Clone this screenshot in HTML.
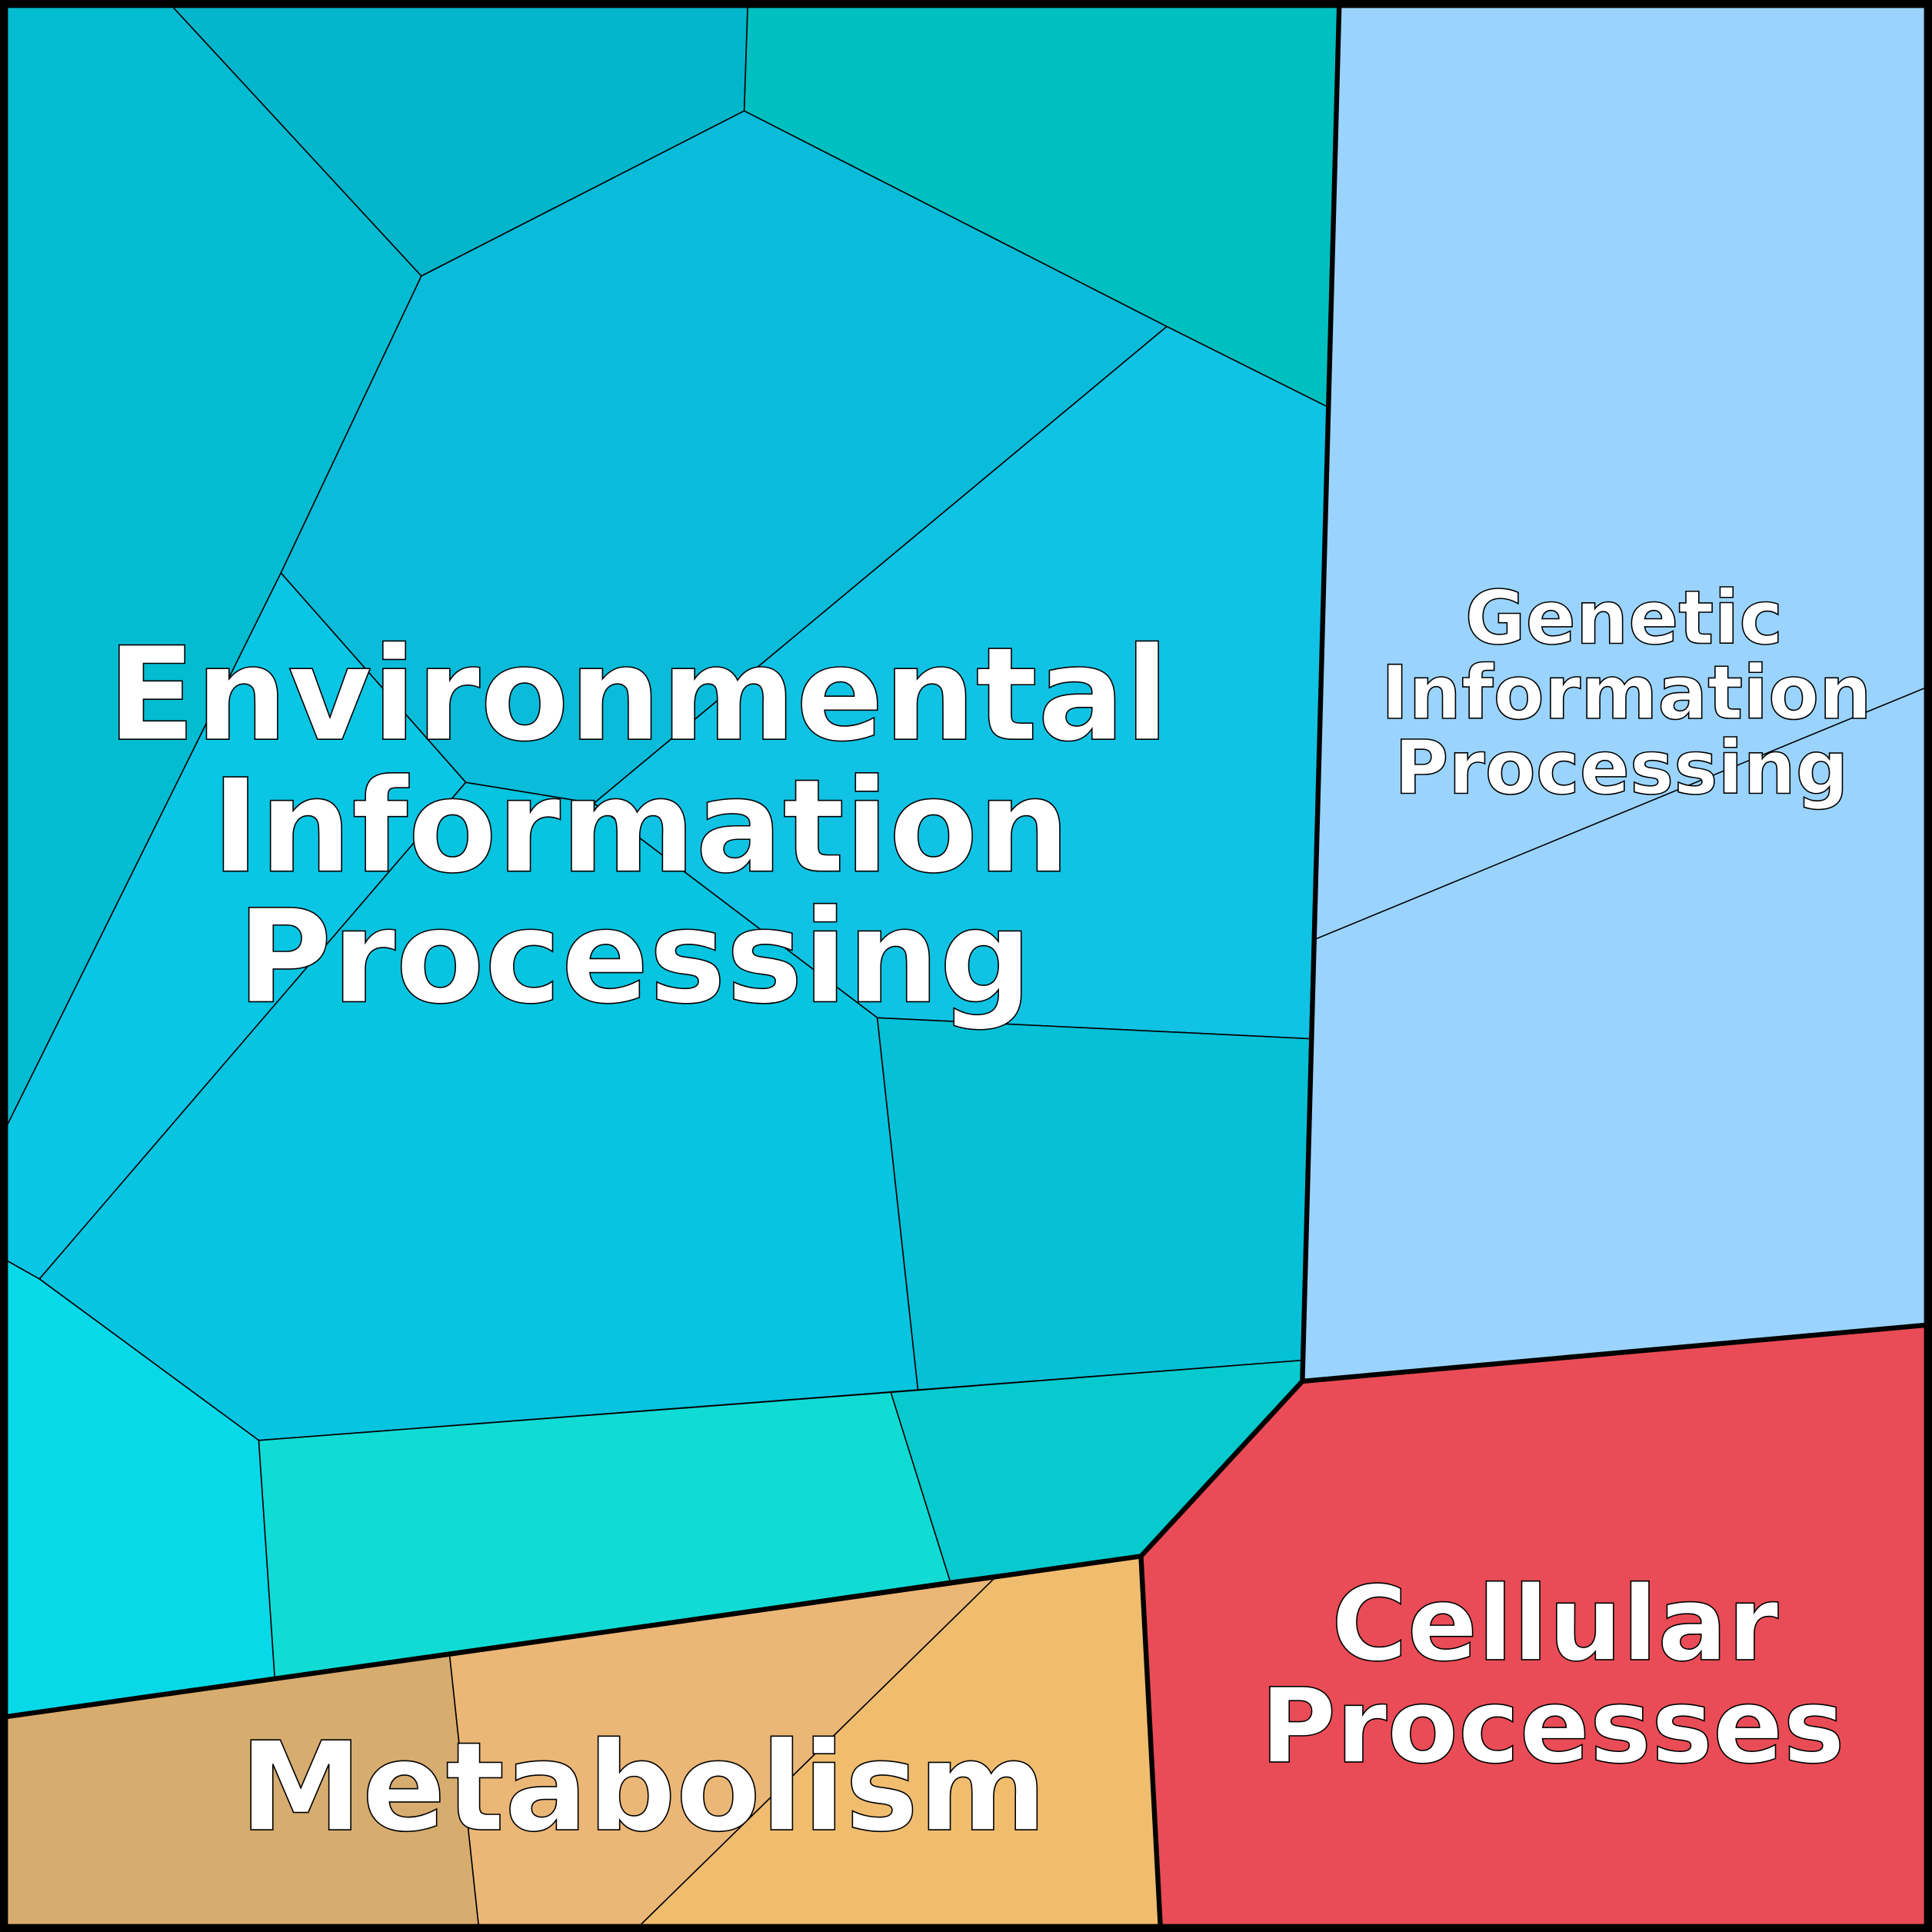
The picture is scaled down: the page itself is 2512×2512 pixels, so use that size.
<!DOCTYPE html>
<html><head><meta charset="utf-8"><style>html,body{margin:0;padding:0;background:#fff}svg{display:block}</style></head>
<body>
<svg width="2512" height="2512" viewBox="0 0 1568 1568" xmlns="http://www.w3.org/2000/svg">
<g stroke="#000" stroke-width="1" stroke-linejoin="round">
<polygon fill="#02BCD1" points="0,0 135,0 342,224 228,465 0,925"/>
<polygon fill="#03B6CB" points="135,0 607,0 604,90 342,224"/>
<polygon fill="#00BFC0" points="607,0 1087,0 1077,330 947,265 604,90"/>
<polygon fill="#0ABBDA" points="342,224 604,90 947,265 482,652 378,635 228,465"/>
<polygon fill="#10C3E4" points="947,265 1077,330 1063,843 712,826 482,652"/>
<polygon fill="#0AC6E5" points="228,465 378,635 32,1038 0,1020 0,925"/>
<polygon fill="#07C4E0" points="378,635 482,652 712,826 745,1128 210,1169 32,1038"/>
<polygon fill="#05C0D6" points="712,826 1063,843 1057,1104 745,1128"/>
<polygon fill="#07D9E8" points="0,1020 32,1038 210,1169 223,1362 0,1394"/>
<polygon fill="#10DCD5" points="210,1169 723,1130 771,1283 223,1362"/>
<polygon fill="#07CACE" points="723,1130 1057,1104 1057,1121 926,1263 771,1283"/>
<polygon fill="#9AD4FE" points="1087,0 1568,0 1568,1075 1057,1121"/>
<line x1="1068" y1="762" x2="1568" y2="556"/>
<polygon fill="#E94C56" points="1057,1121 1568,1075 1568,1568 942,1568 926,1263"/>
<polygon fill="#D6AC6F" points="0,1394 365,1344 389,1568 0,1568"/>
<polygon fill="#EBB777" points="365,1344 808,1280 514,1568 389,1568"/>
<polygon fill="#F0BD6F" points="808,1280 926,1263 942,1568 514,1568"/>
</g>
<g stroke="#000" stroke-width="4" fill="none" stroke-linejoin="round">
<polyline points="1087,0 1057,1121 1568,1075"/>
<polyline points="1057,1121 926,1263 942,1568"/>
<polyline points="0,1394 926,1263"/>
<rect x="3" y="3" width="1562" height="1562" stroke-width="7"/>
</g>
<g font-family="'DejaVu Sans','Liberation Sans',sans-serif" font-weight="bold" fill="#fff" stroke="#000" stroke-width="1" text-anchor="middle">
<g font-size="105">
<text x="518" y="600">Environmental</text>
<text x="520" y="707">Information</text>
<text x="515" y="813">Processing</text>
</g>
<text x="522" y="1485" font-size="100">Metabolism</text>
<g font-size="60">
<text x="1318" y="522">Genetic</text>
<text x="1320" y="583">Information</text>
<text x="1316" y="644">Processing</text>
</g>
<g font-size="84">
<text x="1262" y="1347">Cellular</text>
<text x="1260" y="1430">Processes</text>
</g>
</g>
</svg>
</body></html>
